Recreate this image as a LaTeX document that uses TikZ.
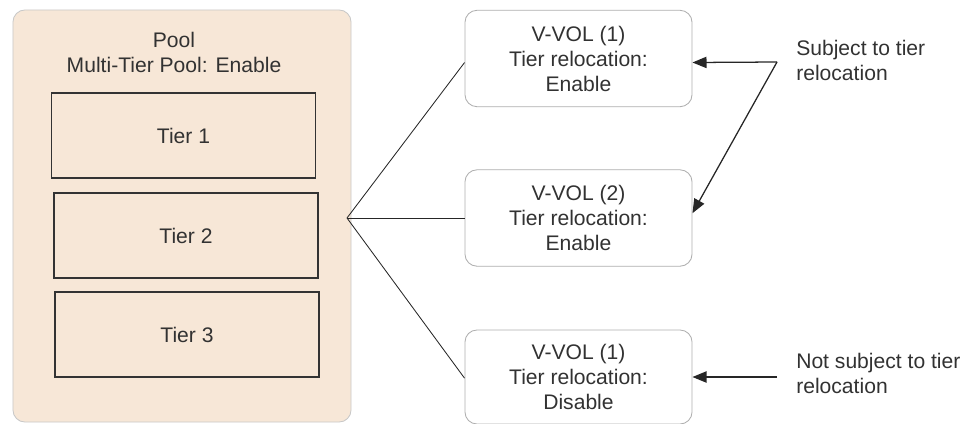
\documentclass[tikz,border=0pt]{standalone}
\usepackage{fontspec}
\setmainfont{Liberation Sans}
\definecolor{poolfill}{RGB}{247,231,215}
\definecolor{poolline}{RGB}{200,200,200}
\definecolor{volline}{RGB}{175,175,175}
\definecolor{txt}{RGB}{50,50,50}
\usetikzlibrary{arrows.meta}
\begin{document}
\begin{tikzpicture}[x=0.025cm,y=-0.025cm,
    every node/.style={font=\fontsize{15}{17.8}\selectfont,text=txt,align=center},
    poolbox/.style={draw=poolline,fill=poolfill,rounded corners=0.3cm,line width=0.6pt,
      minimum width=8.45cm,minimum height=10.3cm},
    tierbox/.style={draw=black!80,line width=1.2pt,minimum width=6.6cm,minimum height=2.13cm},
    volbox/.style={draw=volline,fill=white,rounded corners=0.3cm,line width=0.6pt,
      minimum width=5.675cm,minimum height=2.41cm},
    link/.style={draw=black!85,line width=0.6pt},
    pointer/.style={draw=black!85,line width=0.9pt,-{Triangle[length=10pt,width=8pt]}}]
        \useasboundingbox (0,0) rectangle (967,423) ;
        %\draw[very thin,gray,step=20] (0,0) grid (967,423) ;
        % pool and its tiers
        \node[poolbox] (pool) at (182,216) {} ;
        \node (pooltitle) at (174,52) {Pool\\Multi-Tier Pool: Enable} ;
        \node[tierbox] (tier1) at (183.5,135.6) {Tier 1} ;
        \node[tierbox] (tier2) at (186,235.5) {Tier 2} ;
        \node[tierbox] (tier3) at (187,334.5) {Tier 3} ;
        % volumes
        \node[volbox] (vol1) at (578.5,58.5) {V-VOL (1)\\Tier relocation:\\Enable} ;
        \node[volbox] (vol2) at (578.5,218) {V-VOL (2)\\Tier relocation:\\Enable} ;
        \node[volbox,minimum height=2.35cm] (vol3) at (578.5,377) {V-VOL (1)\\Tier relocation:\\Disable} ;
        \coordinate (fork) at (347,218) ;
        \draw[link] (fork) -- ([yshift=-0.1cm]vol1.west) ;
        \draw[link] (fork) -- (vol2.west) ;
        \draw[link] (fork) -- ([yshift=-0.03cm]vol3.west) ;
        % notes on the right
        \coordinate (apex) at (777,62) ;
        \coordinate (notail) at (777,377) ;
        \node[anchor=west,align=left,inner sep=0] (subj) at (796,60)
          {Subject to tier\\relocation} ;
        \node[anchor=west,align=left,inner sep=0] (nosubj) at (796,373)
          {Not subject to tier\\relocation} ;
        \draw[pointer] (apex) -- ([yshift=-0.1cm]vol1.east) ;
        \draw[pointer] (apex) -- ([yshift=0.12cm]vol2.east) ;
        \draw[pointer] (notail) -- (vol3.east) ;
      \end{tikzpicture}
\end{document}
